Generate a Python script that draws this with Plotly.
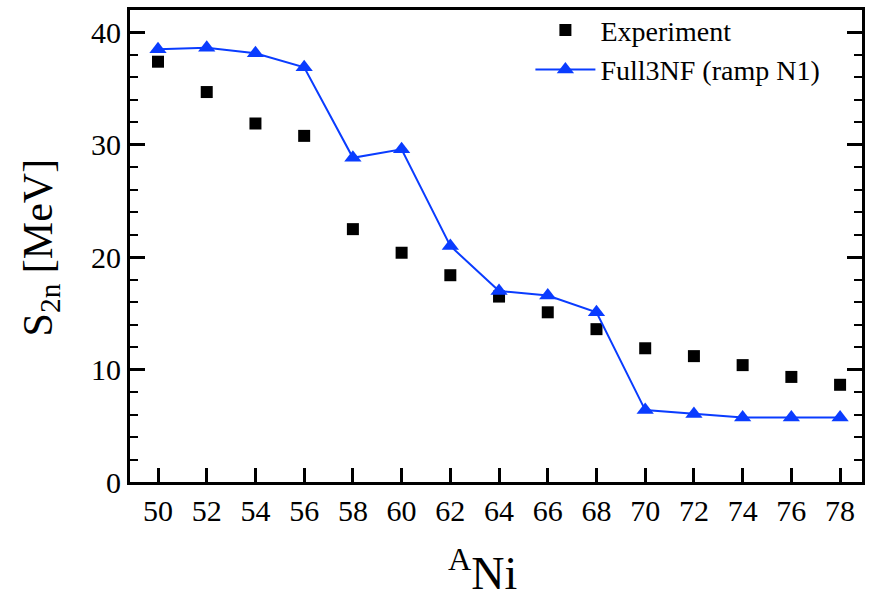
import plotly.graph_objects as go

mass_numbers = [50, 52, 54, 56, 58, 60, 62, 64, 66, 68, 70, 72, 74, 76, 78]
experiment = [37.4, 34.7, 31.9, 30.8, 22.5, 20.4, 18.4, 16.5, 15.1, 13.6, 11.9, 11.2, 10.4, 9.35, 8.65]
full3nf = [38.5, 38.65, 38.15, 36.9, 28.85, 29.6, 21.0, 17.0, 16.6, 15.1, 6.4, 6.05, 5.75, 5.75, 5.75]
x_ticks = [50, 52, 54, 56, 58, 60, 62, 64, 66, 68, 70, 72, 74, 76, 78]
y_ticks = [0, 10, 20, 30, 40]

FONT = "Liberation Serif, DejaVu Serif, serif"
BLUE = "#0a3cff"

fig = go.Figure()
fig.add_trace(go.Scatter(
    x=mass_numbers, y=experiment, mode="markers", name="Experiment",
    marker=dict(symbol="square", size=12, color="black"),
))
fig.add_trace(go.Scatter(
    x=mass_numbers, y=full3nf, mode="lines+markers", name="Full3NF (ramp N1)",
    line=dict(color=BLUE, width=2),
    marker=dict(symbol="triangle-up", size=15, color=BLUE),
))

fig.update_layout(
    width=872, height=600,
    margin=dict(l=130, r=10, t=5, b=118),
    plot_bgcolor="white", paper_bgcolor="white",
    font=dict(family=FONT, color="black", size=28),
    showlegend=True,
    legend=dict(x=0.547, y=1.01, xanchor="left", yanchor="top",
                bgcolor="rgba(0,0,0,0)", font=dict(size=28, family=FONT),
                tracegroupgap=0, itemwidth=60),
    annotations=[
        dict(text="<sup>A</sup>Ni", xref="paper", yref="paper", x=0.481, y=-0.2516,
             xanchor="center", yanchor="bottom", showarrow=False,
             font=dict(size=46, family=FONT)),
        dict(text="S<sub>2n</sub> [MeV]", xref="paper", yref="paper", x=-0.1216, y=0.497,
             xanchor="center", yanchor="middle", textangle=-90, showarrow=False,
             font=dict(size=42, family=FONT)),
    ],
)
fig.update_xaxes(
    range=[48.85, 78.9], tickvals=x_ticks, ticktext=[str(v) for v in x_ticks],
    ticks="inside", ticklen=14, tickwidth=2.5, tickcolor="black",
    showline=True, linewidth=3, linecolor="black", mirror=True,
    showgrid=False, zeroline=False,
    tickfont=dict(size=30, family=FONT),
)
fig.update_yaxes(
    range=[0, 42], tickvals=y_ticks, ticktext=[str(v) for v in y_ticks],
    ticks="inside", ticklen=15, tickwidth=2.5, tickcolor="black",
    minor=dict(dtick=2, tick0=0, ticks="inside", ticklen=8, tickwidth=2, tickcolor="black"),
    showline=True, linewidth=3, linecolor="black", mirror="ticks",
    showgrid=False, zeroline=False,
    tickfont=dict(size=30, family=FONT),
)

fig.write_html("out.html")
